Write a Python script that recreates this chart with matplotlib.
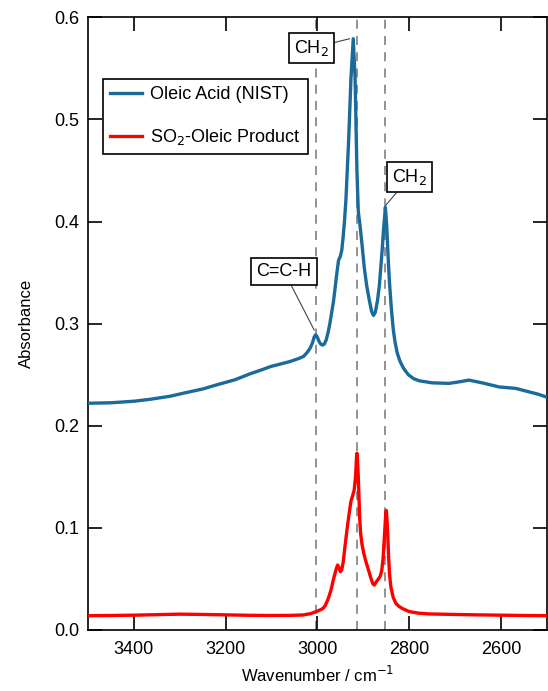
import matplotlib.pyplot as plt

plt.rcParams['font.family'] = ['Liberation Sans', 'DejaVu Sans']
plt.rcParams['font.size'] = 13

# Oleic acid reference spectrum (NIST)
oleic_wn = [3500, 3450, 3400, 3363, 3320, 3291, 3250, 3220, 3180, 3146,
            3120, 3102, 3080, 3059, 3040, 3030, 3022, 3016, 3011, 3007,
            3004, 3001, 2997, 2993, 2989, 2985, 2981, 2977, 2973, 2969,
            2965, 2961, 2957, 2954, 2950, 2947, 2944, 2941, 2938, 2932,
            2927, 2922, 2918, 2914, 2911, 2907, 2903, 2898, 2893, 2887,
            2882, 2878, 2874, 2869, 2865, 2862, 2859, 2856, 2852, 2849,
            2846, 2843, 2839, 2835, 2831, 2826, 2820, 2812, 2802, 2790,
            2778, 2750, 2713, 2691, 2670, 2641, 2604, 2568, 2546, 2520,
            2500]
oleic_abs = [0.222, 0.2225, 0.224, 0.226, 0.229, 0.232, 0.236, 0.240, 0.245, 0.251,
             0.255, 0.258, 0.2605, 0.263, 0.266, 0.268, 0.272, 0.276, 0.281, 0.287,
             0.289, 0.2875, 0.283, 0.280, 0.279, 0.280, 0.284, 0.291, 0.300, 0.311,
             0.322, 0.337, 0.352, 0.362, 0.366, 0.372, 0.385, 0.401, 0.421, 0.480,
             0.540, 0.579, 0.540, 0.450, 0.410, 0.395, 0.378, 0.355, 0.338, 0.323,
             0.312, 0.308, 0.311, 0.323, 0.338, 0.355, 0.372, 0.392, 0.414, 0.395,
             0.365, 0.340, 0.315, 0.295, 0.282, 0.271, 0.263, 0.256, 0.250, 0.246,
             0.244, 0.242, 0.2415, 0.243, 0.2447, 0.242, 0.238, 0.2366, 0.234, 0.231,
             0.228]

# SO2 - oleic acid reaction product
prod_wn = [3500, 3450, 3400, 3350, 3300, 3250, 3200, 3150, 3104, 3060,
           3032, 3015, 3003, 2995, 2988, 2983, 2978, 2974, 2970, 2966,
           2962, 2959, 2956, 2953, 2950, 2947, 2944, 2941, 2937, 2934,
           2930, 2927, 2923, 2920, 2917, 2915, 2914, 2913, 2911, 2910,
           2908, 2906, 2903, 2899, 2895, 2891, 2887, 2883, 2879, 2876,
           2872, 2867, 2863, 2860, 2857, 2855, 2853, 2851, 2850, 2849,
           2847, 2845, 2843, 2840, 2835, 2829, 2822, 2815, 2800, 2780,
           2757, 2700, 2650, 2600, 2550, 2500]
prod_abs = [0.014, 0.0142, 0.0145, 0.015, 0.0155, 0.0152, 0.0148, 0.0144, 0.0142, 0.0143,
            0.0147, 0.016, 0.018, 0.0195, 0.021, 0.024, 0.029, 0.034, 0.040, 0.048,
            0.055, 0.060, 0.0636, 0.061, 0.057, 0.059, 0.066, 0.078, 0.093, 0.104,
            0.117, 0.126, 0.132, 0.137, 0.150, 0.168, 0.173, 0.168, 0.150, 0.137,
            0.110, 0.095, 0.084, 0.075, 0.068, 0.062, 0.056, 0.050, 0.045, 0.044,
            0.047, 0.050, 0.053, 0.058, 0.070, 0.085, 0.100, 0.115, 0.117, 0.112,
            0.095, 0.072, 0.055, 0.042, 0.032, 0.026, 0.023, 0.021, 0.018, 0.0165,
            0.0157, 0.0152, 0.0148, 0.0145, 0.0142, 0.014]

band_positions = [3004, 2914, 2852]
band_labels = ['C=C-H', 'CH$_2$', 'CH$_2$']
band_targets = [(3007, 0.2936), (2930, 0.579), (2851, 0.416)]
label_spots = [(3073, 0.3514), (3013, 0.5697), (2799, 0.4434)]

fig = plt.figure(figsize=(5.48, 6.91), dpi=100)
ax = fig.add_axes([0.1606, 0.0883, 0.8374, 0.8867])

for wn in band_positions:
    ax.axvline(wn, color='#8a8a8a', linestyle=(0, (5, 4)), linewidth=1.3, zorder=1)

ax.plot(oleic_wn, oleic_abs, color='#1a6b9b', linewidth=2.4, label='Oleic Acid (NIST)', zorder=3)
ax.plot(prod_wn, prod_abs, color='#ff0000', linewidth=2.4, label='SO$_2$-Oleic Product', zorder=3)

for text, target, spot in zip(band_labels, band_targets, label_spots):
    ax.annotate(text, xy=target, xytext=spot, ha='center', va='center',
                bbox=dict(boxstyle='square,pad=0.28', fc='white', ec='black', lw=1.2),
                arrowprops=dict(arrowstyle='-', color='#444444', lw=0.8,
                                shrinkA=0, shrinkB=0),
                zorder=4)

ax.set_xlim(3500, 2500)
ax.set_ylim(0, 0.6)
ax.set_xticks([3400, 3200, 3000, 2800, 2600])
ax.set_yticks([0.0, 0.1, 0.2, 0.3, 0.4, 0.5, 0.6])
ax.set_yticklabels(['0.0', '0.1', '0.2', '0.3', '0.4', '0.5', '0.6'])
ax.tick_params(direction='in', length=10, width=1.2, top=True, right=True)
ax.tick_params(axis='x', pad=8)
ax.tick_params(axis='y', pad=6)
for sp in ax.spines.values():
    sp.set_linewidth(1.2)

ax.set_xlabel('Wavenumber / cm$^{-1}$', fontsize=12, labelpad=5)
ax.set_ylabel('Absorbance', fontsize=12, labelpad=15)

leg = ax.legend(loc='upper left', bbox_to_anchor=(0.0326, 0.899), borderaxespad=0,
                fancybox=False, framealpha=1, edgecolor='black',
                labelspacing=1.3, handlelength=1.75, handletextpad=0.45, borderpad=0.4)
leg.get_frame().set_linewidth(1.2)

fig.savefig('out.png', dpi=100)
